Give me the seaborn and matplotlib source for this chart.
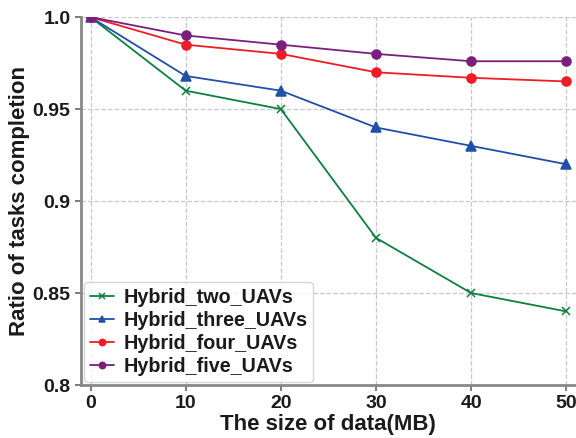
import matplotlib
matplotlib.use("Agg")
import matplotlib.pyplot as plt
import seaborn as sns

data_size = [0, 10, 20, 30, 40, 50]
two_uavs = [1.0, 0.96, 0.95, 0.88, 0.85, 0.84]
three_uavs = [1.0, 0.968, 0.96, 0.94, 0.93, 0.92]
four_uavs = [1.0, 0.985, 0.98, 0.97, 0.967, 0.965]
five_uavs = [1.0, 0.99, 0.985, 0.98, 0.976, 0.976]

series_names = ['Hybrid_two_UAVs', 'Hybrid_three_UAVs', 'Hybrid_four_UAVs', 'Hybrid_five_UAVs']
series_vals = [two_uavs, three_uavs, four_uavs, five_uavs]
colors = ['#0d8040', '#2150a8', '#ee1c25', '#7a1f7e']
markers = ['x', '^', 'o', 'o']
msizes = [5.5, 6.5, 6.5, 6.5]

sns.set_style('ticks')
plt.rcParams['font.family'] = ['Liberation Sans', 'DejaVu Sans']
plt.rcParams['font.weight'] = 'bold'

fig = plt.figure(figsize=(5.76, 4.38), dpi=100)
ax = fig.add_axes([0.1406, 0.121, 0.859, 0.84])

for name, vals, c, m, ms in zip(series_names, series_vals, colors, markers, msizes):
    sns.lineplot(x=data_size, y=vals, color=c, marker=m, label=name, ax=ax,
                 linewidth=1.3, markersize=ms, markeredgewidth=1.1,
                 markeredgecolor=c)

ax.set_xlim(-1, 51)
ax.set_ylim(0.8, 1.0)
ax.set_xticks([0, 10, 20, 30, 40, 50])
ax.set_yticks([0.8, 0.85, 0.9, 0.95, 1.0])
ax.set_yticklabels(['0.8', '0.85', '0.9', '0.95', '1.0'])
ax.grid(True, ls='--', color='#c8c8c8', lw=0.9)
ax.tick_params(axis='both', labelsize=14, color='#666666', width=1.2, length=4,
               labelcolor='#1a1a1a')
for lab in ax.get_xticklabels() + ax.get_yticklabels():
    lab.set_fontweight('bold')

for side in ['left', 'bottom']:
    ax.spines[side].set_color('#888888')
    ax.spines[side].set_linewidth(2)
for side in ['top', 'right']:
    ax.spines[side].set_visible(False)

ax.set_xlabel('The size of data(MB)', fontsize=16, fontweight='bold', labelpad=1,
              color='#1a1a1a')
ax.set_ylabel('Ratio of tasks completion', fontsize=16, fontweight='bold', labelpad=2,
              color='#1a1a1a')

leg = ax.legend(loc='lower left', fontsize=14.2, frameon=True, handlelength=1.2,
                borderaxespad=0.15, labelspacing=0.2, handletextpad=0.5,
                markerscale=0.7, borderpad=0.3)
for t in leg.get_texts():
    t.set_fontweight('bold')
    t.set_color('#1a1a1a')

fig.savefig('out.png', dpi=100)
